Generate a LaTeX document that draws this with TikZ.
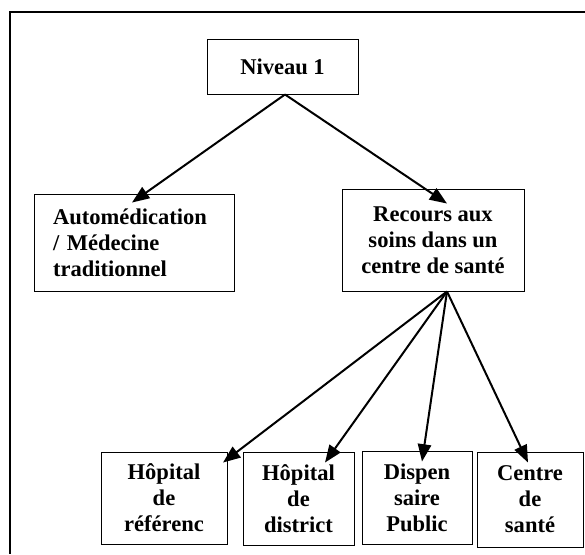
\documentclass[tikz,border=0pt]{standalone}
\usepackage{fontspec}
\setmainfont{Liberation Serif}
\usetikzlibrary{calc,arrows.meta}

\tikzset{
    boite/.style={draw,line width=0.7pt,inner sep=0pt,align=center,
        font=\fontsize{16.9}{19.5}\selectfont\bfseries},
    fleche/.style={line width=1.5pt,-{Triangle[length=13pt,width=10pt]}}
}

\begin{document}
\begin{tikzpicture}[x=0.75pt,y=-0.75pt]
            \useasboundingbox (0,0) rectangle (585,554);
            \draw[line width=1.6pt] (585,12) -- (10,12) -- (10,554);

            \node[boite,minimum width=113.25pt,minimum height=41.25pt] (niv) at (282.5,66.5) {Niveau 1};
            \node[boite,minimum width=150pt,minimum height=72.75pt,align=left,text width=121.5pt,inner xsep=14.25pt] (auto) at (134,242.5) {Automédication\\/ Médecine\\traditionnel};
            \node[boite,minimum width=136.5pt,minimum height=76.5pt] (rec) at (433,240) {Recours aux\\soins dans un\\centre de santé};

            \node[boite,minimum width=94.5pt,minimum height=69pt] (h1) at (164,498) {Hôpital\\de\\référenc};
            \node[boite,minimum width=83.25pt,minimum height=69.75pt] (h2) at (298.5,498.5) {Hôpital\\de\\district};
            \node[boite,minimum width=82.5pt,minimum height=69.75pt] (h3) at (417,497.5) {Dispen\\saire\\Public};
            \node[boite,minimum width=79.5pt,minimum height=71.25pt] (h4) at (530,499.5) {Centre\\de\\santé};

            \coordinate (depart) at ($(rec.south)+(14,0)$);

            \draw[fleche] ($(niv.south)+(2.5,0)$) -- ($(auto.north)+(-2,9)$);
            \draw[fleche] ($(niv.south)+(2.5,0)$) -- ($(rec.north)+(14,15)$);
            \draw[fleche] (depart) -- ($(h1.north)+(59,11)$);
            \draw[fleche] (depart) -- ($(h2.north)+(26.5,11)$);
            \draw[fleche] (depart) -- ($(h3.north)+(5,11)$);
            \draw[fleche] (depart) -- ($(h4.north)+(-2,11)$);
\end{tikzpicture}
\end{document}
